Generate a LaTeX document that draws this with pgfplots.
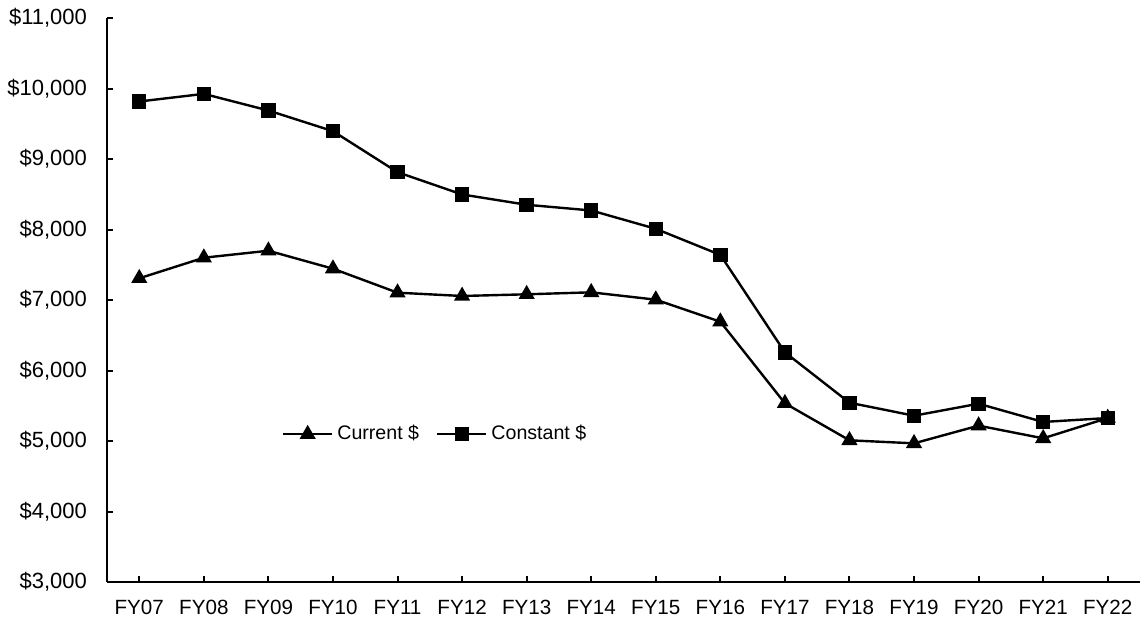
\documentclass[border=0pt]{standalone}
\usepackage{fontspec}
\setmainfont{Liberation Sans}
\usepackage{pgfplots}
\pgfplotsset{compat=1.18}
\begin{document}
\begin{tikzpicture}
\begin{axis}[
  at={(53.5pt,18pt)}, anchor=south west,
  width=516.5pt, height=282pt, scale only axis,
  xmin=-0.5, xmax=15.5, ymin=3000, ymax=11000,
  scaled y ticks=false, scaled x ticks=false,
  axis x line=bottom, axis y line=left,
  axis line style={-, line width=1pt},
  every outer x axis line/.append style={-},
  every outer y axis line/.append style={-},
  xtick={0,...,15},
  xticklabels={FY07,FY08,FY09,FY10,FY11,FY12,FY13,FY14,FY15,FY16,FY17,FY18,FY19,FY20,FY21,FY22},
  ytick={3000,4000,...,11000},
  yticklabels={{\$3,000},{\$4,000},{\$5,000},{\$6,000},{\$7,000},{\$8,000},{\$9,000},{\$10,000},{\$11,000}},
  tick align=inside, major tick length=3pt,
  tick style={line width=1pt, black},
  xticklabel style={font=\fontsize{10.3}{12}\selectfont, yshift=-5.5pt},
  yticklabel style={font=\fontsize{11}{13}\selectfont, xshift=-6.5pt},
  legend columns=-1,
  legend style={draw=none, fill=none, at={(0.169,0.262)}, anchor=west,
    inner sep=0pt, font=\fontsize{9.8}{11}\selectfont,
    /tikz/every even column/.append style={column sep=6.5pt}},
  legend image code/.code={\draw[mark repeat=2,mark phase=2] plot coordinates {(0pt,0pt) (12.25pt,0pt) (24.5pt,0pt)};},
  clip=false,
]
\addplot[black, line width=1.2pt, mark=triangle*, mark size=3.5pt, mark options={solid}]
coordinates {(0,7308) (1,7600) (2,7699) (3,7444) (4,7104) (5,7057) (6,7081) (7,7109) (8,7005) (9,6692) (10,5535) (11,5010) (12,4967) (13,5218) (14,5038) (15,5326)};
\addlegendentry{Current \$}
\addplot[black, line width=1.2pt, mark=square*, mark size=3pt, mark options={solid}]
coordinates {(0,9816) (1,9924) (2,9688) (3,9395) (4,8813) (5,8497) (6,8351) (7,8270) (8,8010) (9,7640) (10,6258) (11,5543) (12,5359) (13,5529) (14,5270) (15,5326)};
\addlegendentry{Constant \$}
\end{axis}
\pgfresetboundingbox
\path[use as bounding box] (0,0) rectangle (570pt,309pt);
\end{tikzpicture}
\end{document}
